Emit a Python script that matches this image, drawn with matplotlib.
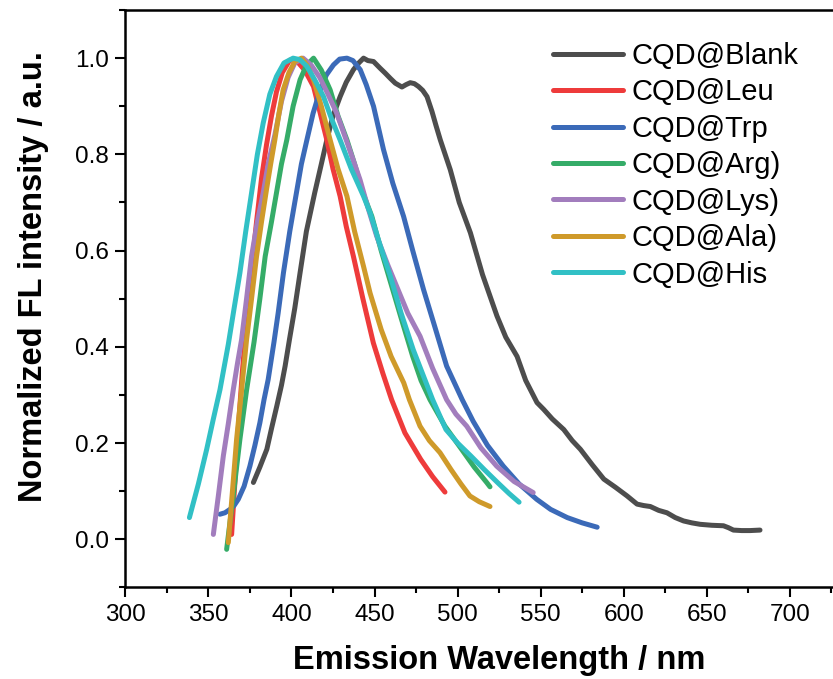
import matplotlib
matplotlib.use("Agg")
import matplotlib.pyplot as plt
from matplotlib.ticker import MultipleLocator

plt.rcParams['font.family'] = ['Liberation Sans', 'DejaVu Sans']

# emission spectra (wavelength in nm, normalized intensity)
wl_blank = [377.1, 381, 385.2, 388, 391.2, 394, 396.2, 398.8, 402, 405.2, 409, 414, 418, 421.3, 425,
            429.3, 433, 437.3, 440.5, 443.4, 446, 449.4, 453.4, 456.4, 459.5, 462.5, 466.5, 469, 471.5,
            474, 476.5, 479, 481.6, 484.6, 487, 489.6, 492.5, 495.6, 501, 507.7, 515, 523.7, 529, 535.8,
            541, 547.8, 551.8, 557, 563.9, 569, 573.9, 581, 588, 595, 602, 608, 612, 616, 621, 626, 631,
            636, 641, 646, 653, 660, 663, 666, 671, 676, 682]
fl_blank = [0.118, 0.15, 0.187, 0.23, 0.277, 0.32, 0.36, 0.415, 0.48, 0.554, 0.64, 0.72, 0.78, 0.83, 0.88,
            0.92, 0.95, 0.976, 0.99, 1.0, 0.995, 0.993, 0.979, 0.969, 0.958, 0.948, 0.94, 0.945, 0.949,
            0.947, 0.941, 0.933, 0.92, 0.889, 0.86, 0.83, 0.8, 0.768, 0.70, 0.637, 0.55, 0.464, 0.42, 0.38,
            0.33, 0.284, 0.27, 0.25, 0.228, 0.205, 0.187, 0.155, 0.125, 0.108, 0.09, 0.073, 0.07, 0.068,
            0.06, 0.055, 0.045, 0.038, 0.034, 0.031, 0.029, 0.028, 0.024, 0.019, 0.018, 0.018, 0.019]

wl_leu = [364, 366, 368, 370.5, 373, 376, 379, 382, 385, 388, 391, 394.5, 399, 403, 408, 413.3, 417,
          421.3, 425, 429.3, 433, 437.3, 443, 449.3, 455, 460.3, 468.3, 477.8, 485, 492.4]
fl_leu = [0.01, 0.12, 0.23, 0.35, 0.45, 0.56, 0.66, 0.75, 0.82, 0.88, 0.93, 0.97, 0.996, 0.995, 0.975,
          0.941, 0.89, 0.83, 0.77, 0.713, 0.65, 0.588, 0.5, 0.408, 0.345, 0.29, 0.221, 0.166, 0.13, 0.098]

wl_trp = [357, 360, 363, 365.5, 368, 371.5, 375, 378, 381, 383.5, 386, 389.5, 392, 395.2, 399, 403, 406,
          409.3, 413, 417.3, 421, 425.3, 429, 433.4, 437, 441.4, 445, 449.4, 455.4, 461, 467.5, 473,
          479.5, 486, 493.4, 502.8, 509.4, 518, 527.5, 537, 547.6, 556, 566, 575, 584]
fl_trp = [0.052, 0.055, 0.062, 0.07, 0.083, 0.11, 0.152, 0.195, 0.242, 0.29, 0.332, 0.41, 0.47, 0.554,
          0.64, 0.72, 0.78, 0.83, 0.885, 0.934, 0.965, 0.986, 0.998, 1.0, 0.995, 0.976, 0.945, 0.9, 0.81,
          0.74, 0.671, 0.6, 0.519, 0.445, 0.36, 0.29, 0.245, 0.195, 0.152, 0.115, 0.083, 0.062, 0.045,
          0.034, 0.025]

wl_arg = [361, 363, 365, 367, 369, 373, 377.5, 381, 384.2, 388, 391, 394, 397.2, 401, 405.2, 409, 413.3,
          418, 423.3, 428, 433.4, 438, 443, 448.4, 454, 460, 466, 473, 478, 483.4, 492.4, 502.4, 510,
          517.5, 519.5]
fl_arg = [-0.021, 0.035, 0.09, 0.15, 0.208, 0.31, 0.41, 0.50, 0.588, 0.66, 0.72, 0.78, 0.83, 0.9, 0.955,
          0.985, 1.0, 0.975, 0.934, 0.88, 0.83, 0.78, 0.72, 0.671, 0.6, 0.53, 0.46, 0.38, 0.33, 0.29,
          0.235, 0.187, 0.15, 0.118, 0.109]

wl_lys = [353, 356, 359, 362, 365, 367.5, 370, 373, 376, 379.5, 383, 386, 390, 394, 398, 402, 407, 412,
          417, 422, 427.2, 434, 441.3, 446, 451.3, 458, 464, 470, 477.4, 485, 493.4, 499, 505.5, 514,
          523.5, 534, 545.5]
fl_lys = [0.01, 0.09, 0.173, 0.24, 0.311, 0.365, 0.415, 0.5, 0.588, 0.66, 0.72, 0.78, 0.84, 0.91, 0.96,
          0.99, 1.0, 0.985, 0.96, 0.925, 0.886, 0.82, 0.747, 0.69, 0.63, 0.57, 0.52, 0.47, 0.422, 0.355,
          0.29, 0.26, 0.235, 0.19, 0.152, 0.12, 0.097]

wl_ala = [362, 364.5, 367, 370, 373, 376, 379, 382, 385, 387.5, 390, 392.5, 395, 398.5, 402, 406, 409.5,
          413.3, 418, 423.3, 428, 433.4, 438, 443.4, 447.3, 454, 460, 467.6, 471, 477.4, 483, 489.4, 496,
          502, 507.4, 513, 519.5]
fl_ala = [-0.007, 0.10, 0.208, 0.31, 0.415, 0.50, 0.588, 0.66, 0.727, 0.78, 0.83, 0.885, 0.934, 0.97,
          0.993, 1.0, 0.985, 0.955, 0.9, 0.83, 0.77, 0.713, 0.64, 0.567, 0.512, 0.436, 0.38, 0.325, 0.29,
          0.235, 0.205, 0.18, 0.145, 0.115, 0.09, 0.078, 0.068]

wl_his = [338.6, 344, 349, 353, 357, 362, 365.5, 369, 372.5, 376, 379.5, 383, 387, 391, 395.5, 401, 405,
          409.3, 414, 419.3, 424, 429.3, 436, 443.4, 447.4, 453, 459.5, 466, 473.3, 485, 493, 500, 508,
          516, 524, 531, 537]
fl_his = [0.045, 0.115, 0.187, 0.25, 0.311, 0.405, 0.48, 0.554, 0.64, 0.72, 0.80, 0.865, 0.925, 0.962,
          0.99, 1.0, 0.997, 0.983, 0.955, 0.92, 0.875, 0.83, 0.77, 0.713, 0.678, 0.615, 0.547, 0.47, 0.394,
          0.29, 0.228, 0.2, 0.173, 0.145, 0.118, 0.095, 0.077]

labels = ["CQD@Blank", "CQD@Leu", "CQD@Trp", "CQD@Arg)", "CQD@Lys)", "CQD@Ala)", "CQD@His"]
colors = ["#4d4d4d", "#ee3b3b", "#3b6ab8", "#35ac68", "#a27dbd", "#cf9a2a", "#31c0c5"]
series = [(wl_blank, fl_blank), (wl_leu, fl_leu), (wl_trp, fl_trp), (wl_arg, fl_arg),
          (wl_lys, fl_lys), (wl_ala, fl_ala), (wl_his, fl_his)]
x_ticks = [300, 350, 400, 450, 500, 550, 600, 650, 700]
y_ticks = [0.0, 0.2, 0.4, 0.6, 0.8, 1.0]

fig = plt.figure(figsize=(8.33, 6.79), dpi=100)
# axes run past the right edge of the picture (original is cropped)
ax = fig.add_axes([0.1504, 0.1350, 0.8976, 0.8502])

for (x, y), lab, c in zip(series, labels, colors):
    ax.plot(x, y, color=c, lw=3.6, label=lab, solid_capstyle='round', solid_joinstyle='round')

ax.set_xlim(300, 750)
ax.set_ylim(-0.1, 1.1)
ax.set_xticks(x_ticks)
ax.xaxis.set_minor_locator(MultipleLocator(25))
ax.set_yticks(y_ticks)
ax.yaxis.set_minor_locator(MultipleLocator(0.1))
ax.tick_params(which='both', direction='out', width=1.5, labelsize=17.5, pad=5)
ax.tick_params(which='major', length=7)
ax.tick_params(which='minor', length=4.5)
for s in ax.spines.values():
    s.set_linewidth(1.8)

ax.set_xlabel("Emission Wavelength / nm", fontsize=23.5, fontweight='bold')
ax.set_ylabel("Normalized FL intensity / a.u.", fontsize=23.5, fontweight='bold')
ax.xaxis.set_label_coords(0.5, -0.1)
ax.yaxis.set_label_coords(-0.102, 0.539)

ax.legend(loc='upper left', bbox_to_anchor=(0.572, 0.945), frameon=False, fontsize=21,
          handlelength=2.4, handletextpad=0.3, labelspacing=0.29, borderpad=0, borderaxespad=0)

fig.savefig("out.png", dpi=100)
